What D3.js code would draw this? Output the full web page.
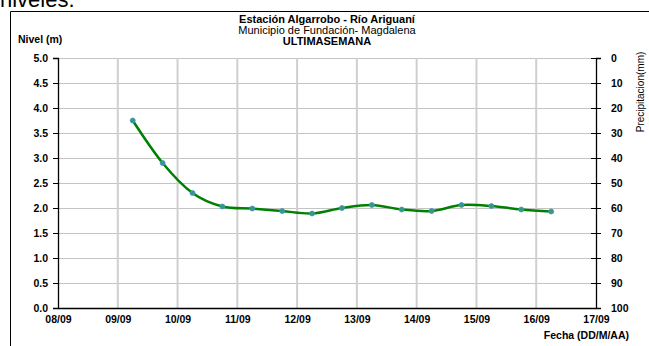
<!DOCTYPE html>
<html>
<head>
<meta charset="utf-8">
<script src="https://cdn.jsdelivr.net/npm/d3@7"></script>
<style>
  body { margin: 0; background: #fff; }
  svg { display: block; font-family: "Liberation Sans", Arial, sans-serif; }
</style>
</head>
<body>
<div id="chart"></div>
<script>
// datos del nivel (m), cada 12 horas
var fechas = ["09/09 06", "09/09 18", "10/09 06", "10/09 18", "11/09 06", "11/09 18",
    "12/09 06", "12/09 18", "13/09 06", "13/09 18", "14/09 06", "14/09 18",
    "15/09 06", "15/09 18", "16/09 06"];
var niveles = [3.75, 2.9, 2.3, 2.03, 1.99, 1.94, 1.89, 2.0, 2.06, 1.97, 1.94, 2.06, 2.04, 1.97, 1.93];
var diasEje = ["08/09", "09/09", "10/09", "11/09", "12/09", "13/09", "14/09", "15/09", "16/09", "17/09"];
var nivelTicks = [0, 0.5, 1, 1.5, 2, 2.5, 3, 3.5, 4, 4.5, 5];
var precipTicks = [0, 10, 20, 30, 40, 50, 60, 70, 80, 90, 100];

function dibujar() {
    var width = 649, height = 346;
    var mLeft = 58, mRight = 596, mTop = 58, mBottom = 308;

    var parseFecha = d3.timeParse("%d/%m %H");
    var parseDia = d3.timeParse("%d/%m");

    var svg = d3.select("#chart").append("svg")
        .attr("width", width)
        .attr("height", height);

    // texto del documento (cortado arriba)
    svg.append("text")
        .attr("x", 0).attr("y", 7)
        .style("font-size", "22px")
        .text("niveles.");

    // marco
    svg.append("path")
        .attr("d", "M10.5,346V11.5H649")
        .attr("fill", "none")
        .attr("stroke", "#000")
        .attr("stroke-width", 1);

    var x = d3.scaleTime()
        .domain([parseDia(diasEje[0]), parseDia(diasEje[diasEje.length - 1])])
        .range([mLeft, mRight]);
    var y = d3.scaleLinear().domain([0, 5]).range([mBottom, mTop]);
    var yP = d3.scaleLinear().domain([0, 100]).range([mTop, mBottom]);

    // rejilla horizontal
    svg.append("g").selectAll("line")
        .data(nivelTicks.slice(1))
        .enter().append("line")
        .attr("x1", mLeft).attr("x2", mRight)
        .attr("y1", (d) => Math.round(y(d)) + 0.5)
        .attr("y2", (d) => Math.round(y(d)) + 0.5)
        .attr("stroke", "#c4c4c4")
        .attr("stroke-width", 1.2);

    // rejilla vertical
    svg.append("g").selectAll("line")
        .data(diasEje.slice(1, -1))
        .enter().append("line")
        .attr("x1", (d) => x(parseDia(d))).attr("x2", (d) => x(parseDia(d)))
        .attr("y1", mTop).attr("y2", mBottom)
        .attr("stroke", "#cfcfcf")
        .attr("stroke-width", 2);

    // eje izquierdo
    var axisL = svg.append("g")
        .attr("transform", "translate(" + mLeft + ",0)")
        .call(d3.axisLeft(y).tickValues(nivelTicks).tickFormat(d3.format(".1f")).tickSize(5).tickPadding(5));
    // eje derecho
    var axisR = svg.append("g")
        .attr("transform", "translate(" + mRight + ",0)")
        .call(d3.axisRight(yP).tickValues(precipTicks).tickSize(5).tickPadding(10));
    axisR.selectAll(".tick line").attr("x1", -5).attr("x2", 5);
    // eje x
    var axisB = svg.append("g")
        .attr("transform", "translate(0," + mBottom + ")")
        .call(d3.axisBottom(x).tickValues(diasEje.map((d) => parseDia(d)))
            .tickFormat(d3.timeFormat("%d/%m")).tickSize(0).tickPadding(8));

    [axisL, axisR, axisB].forEach(function (a) {
        a.select(".domain").attr("stroke", "#000").attr("stroke-width", 1.3);
        a.selectAll(".tick line").attr("stroke", "#000");
        a.selectAll("text")
            .attr("fill", "#000")
            .style("font-family", "'Liberation Sans', Arial, sans-serif")
            .style("font-size", "10.5px")
            .style("font-weight", "bold");
    });

    // serie nivel
    var puntos = fechas.map((f, i) => ({ t: parseFecha(f), v: niveles[i] }));
    var linea = d3.line()
        .x((d) => x(d.t))
        .y((d) => y(d.v))
        .curve(d3.curveCardinal.tension(0));
    svg.append("path")
        .datum(puntos)
        .attr("d", linea)
        .attr("fill", "none")
        .attr("stroke", "#008000")
        .attr("stroke-width", 2.5);
    svg.append("g").selectAll("circle")
        .data(puntos)
        .enter().append("circle")
        .attr("cx", (d) => x(d.t))
        .attr("cy", (d) => y(d.v))
        .attr("r", 2.5)
        .attr("fill", "#2f9a8a")
        .attr("stroke", "#4f8fc0")
        .attr("stroke-width", 0.8);

    // titulos
    var titulo = svg.append("g").attr("text-anchor", "middle");
    titulo.append("text").attr("x", 327).attr("y", 23)
        .style("font-size", "11px").style("font-weight", "bold")
        .text("Estación Algarrobo - Río Ariguaní");
    titulo.append("text").attr("x", 327).attr("y", 34)
        .style("font-size", "11px")
        .text("Municipio de Fundación- Magdalena");
    titulo.append("text").attr("x", 327).attr("y", 45)
        .style("font-size", "11px").style("font-weight", "bold")
        .text("ULTIMASEMANA");

    svg.append("text")
        .attr("x", 18).attr("y", 43)
        .style("font-size", "10.5px").style("font-weight", "bold")
        .text("Nivel (m)");

    svg.append("text")
        .attr("x", 629).attr("y", 339)
        .attr("text-anchor", "end")
        .style("font-size", "10.5px").style("font-weight", "bold")
        .text("Fecha (DD/M/AA)");

    svg.append("text")
        .attr("transform", "translate(644,92) rotate(-90)")
        .attr("text-anchor", "middle")
        .style("font-size", "10px")
        .text("Precipitacion(mm)");
}
dibujar();
</script>
</body>
</html>
